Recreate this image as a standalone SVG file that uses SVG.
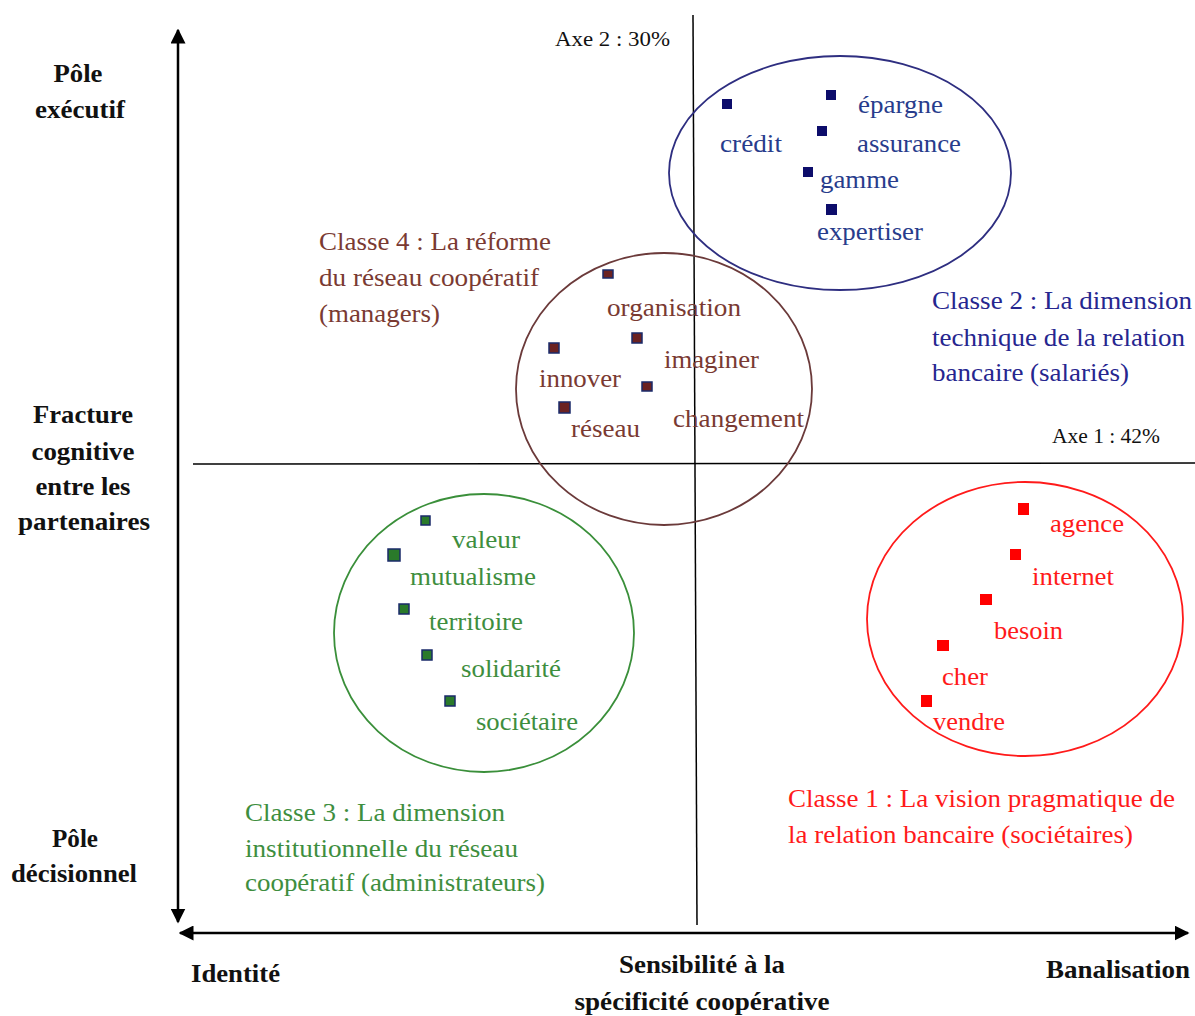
<svg xmlns="http://www.w3.org/2000/svg" width="1195" height="1016" viewBox="0 0 1195 1016">
<style>
text{font-family:"Liberation Serif","Times New Roman",serif;font-size:26px}
.b{font-weight:bold;fill:#111;font-size:25px}
.ax{font-size:20px;fill:#111}
.c2{fill:#283c8c}
.c2l{fill:#26268f}
.c4{fill:#7a3a32}
.c3{fill:#3e8e3e}
.c1{fill:#ff1a1a}
.sq2{fill:#0d0d6b}
.sq4{fill:#6b2222;stroke:#1a2a6a;stroke-width:1.5}
.sq3{fill:#2a7a2a;stroke:#1a2a6a;stroke-width:1.5}
.sq1{fill:#ff0000}
.main{stroke:#000;stroke-width:2.5;fill:none}
.thin{stroke:#000;stroke-width:1.5;fill:none}
</style>
<defs>
<marker id="ah" viewBox="0 0 10 10" refX="9" refY="5" markerWidth="6" markerHeight="6" orient="auto-start-reverse" markerUnits="strokeWidth">
<path d="M0,0 L10,5 L0,10 z" fill="#000"/>
</marker>
</defs>
<rect width="1195" height="1016" fill="#fff"/>

<g id="connectors">
<line class="main" x1="178" y1="30" x2="178" y2="922" marker-start="url(#ah)" marker-end="url(#ah)"/>
<line class="main" x1="180" y1="933" x2="1188" y2="933" marker-start="url(#ah)" marker-end="url(#ah)"/>
<line class="thin" x1="693" y1="15" x2="697" y2="925"/>
<line class="thin" x1="193" y1="464" x2="1195" y2="463"/>
</g>

<g id="axis-labels">
<text class="ax" x="555" y="46" textLength="115" lengthAdjust="spacingAndGlyphs">Axe  2 : 30%</text>
<text class="ax" x="1052" y="443" textLength="108" lengthAdjust="spacingAndGlyphs">Axe 1 : 42%</text>
</g>

<g id="pole-executif">
<text class="b" x="78" y="82" text-anchor="middle" textLength="49" lengthAdjust="spacingAndGlyphs">Pôle</text>
<text class="b" x="80" y="118" text-anchor="middle" textLength="90" lengthAdjust="spacingAndGlyphs">exécutif</text>
</g>
<g id="fracture">
<text class="b" x="83" y="423" text-anchor="middle" textLength="100" lengthAdjust="spacingAndGlyphs">Fracture</text>
<text class="b" x="83" y="460" text-anchor="middle" textLength="103" lengthAdjust="spacingAndGlyphs">cognitive</text>
<text class="b" x="83" y="495" text-anchor="middle" textLength="95" lengthAdjust="spacingAndGlyphs">entre les</text>
<text class="b" x="84" y="530" text-anchor="middle" textLength="132" lengthAdjust="spacingAndGlyphs">partenaires</text>
</g>
<g id="pole-decisionnel">
<text class="b" x="75" y="847" text-anchor="middle" textLength="46" lengthAdjust="spacingAndGlyphs">Pôle</text>
<text class="b" x="74" y="882" text-anchor="middle" textLength="126" lengthAdjust="spacingAndGlyphs">décisionnel</text>
</g>
<g id="identite">
<text class="b" x="191" y="982" textLength="89" lengthAdjust="spacingAndGlyphs">Identité</text>
</g>
<g id="sensibilite">
<text class="b" x="702" y="973" text-anchor="middle" textLength="166" lengthAdjust="spacingAndGlyphs">Sensibilité à la</text>
<text class="b" x="702" y="1010" text-anchor="middle" textLength="255" lengthAdjust="spacingAndGlyphs">spécificité coopérative</text>
</g>
<g id="banalisation">
<text class="b" x="1046" y="978" textLength="144" lengthAdjust="spacingAndGlyphs">Banalisation</text>
</g>

<g id="classe2">
<ellipse cx="840" cy="173" rx="171" ry="117" fill="none" stroke="#2e2e80" stroke-width="1.8"/>
<rect class="sq2" x="722" y="99" width="10" height="10"/>
<rect class="sq2" x="826" y="90" width="10" height="10"/>
<rect class="sq2" x="817" y="126" width="10" height="10"/>
<rect class="sq2" x="803" y="167" width="10" height="10"/>
<rect class="sq2" x="826" y="204" width="11" height="11"/>
<text class="c2" x="858" y="113" textLength="85" lengthAdjust="spacingAndGlyphs">épargne</text>
<text class="c2" x="720" y="152" textLength="62" lengthAdjust="spacingAndGlyphs">crédit</text>
<text class="c2" x="857" y="152" textLength="104" lengthAdjust="spacingAndGlyphs">assurance</text>
<text class="c2" x="820" y="188" textLength="79" lengthAdjust="spacingAndGlyphs">gamme</text>
<text class="c2" x="817" y="240" textLength="106" lengthAdjust="spacingAndGlyphs">expertiser</text>
</g>
<g id="classe2-label">
<text class="c2l" x="932" y="309" textLength="260" lengthAdjust="spacingAndGlyphs">Classe 2 : La dimension</text>
<text class="c2l" x="932" y="346" textLength="253" lengthAdjust="spacingAndGlyphs">technique de la relation</text>
<text class="c2l" x="932" y="381" textLength="197" lengthAdjust="spacingAndGlyphs">bancaire (salariés)</text>
</g>

<g id="classe4">
<ellipse cx="664" cy="389" rx="148" ry="136" fill="none" stroke="#6b3a3a" stroke-width="1.8"/>
<rect class="sq4" x="603" y="270" width="10" height="8"/>
<rect class="sq4" x="632" y="333" width="10" height="10"/>
<rect class="sq4" x="549" y="343" width="10" height="10"/>
<rect class="sq4" x="642" y="382" width="10" height="9"/>
<rect class="sq4" x="559" y="402" width="11" height="11"/>
<text class="c4" x="607" y="316" textLength="134" lengthAdjust="spacingAndGlyphs">organisation</text>
<text class="c4" x="664" y="368" textLength="95" lengthAdjust="spacingAndGlyphs">imaginer</text>
<text class="c4" x="539" y="387" textLength="82" lengthAdjust="spacingAndGlyphs">innover</text>
<text class="c4" x="571" y="437" textLength="69" lengthAdjust="spacingAndGlyphs">réseau</text>
<text class="c4" x="673" y="427" textLength="131" lengthAdjust="spacingAndGlyphs">changement</text>
</g>
<g id="classe4-label">
<text class="c4" x="319" y="250" textLength="232" lengthAdjust="spacingAndGlyphs">Classe 4 : La réforme</text>
<text class="c4" x="319" y="286" textLength="220" lengthAdjust="spacingAndGlyphs">du réseau coopératif</text>
<text class="c4" x="319" y="322" textLength="121" lengthAdjust="spacingAndGlyphs">(managers)</text>
</g>

<g id="classe3">
<ellipse cx="484" cy="633" rx="150" ry="139" fill="none" stroke="#3a8f3a" stroke-width="1.8"/>
<rect class="sq3" x="421" y="516" width="9" height="9"/>
<rect class="sq3" x="388" y="549" width="12" height="12"/>
<rect class="sq3" x="399" y="604" width="10" height="10"/>
<rect class="sq3" x="422" y="650" width="10" height="10"/>
<rect class="sq3" x="445" y="696" width="10" height="10"/>
<text class="c3" x="452" y="548" textLength="68" lengthAdjust="spacingAndGlyphs">valeur</text>
<text class="c3" x="410" y="585" textLength="126" lengthAdjust="spacingAndGlyphs">mutualisme</text>
<text class="c3" x="429" y="630" textLength="94" lengthAdjust="spacingAndGlyphs">territoire</text>
<text class="c3" x="461" y="677" textLength="100" lengthAdjust="spacingAndGlyphs">solidarité</text>
<text class="c3" x="476" y="730" textLength="102" lengthAdjust="spacingAndGlyphs">sociétaire</text>
</g>
<g id="classe3-label">
<text class="c3" x="245" y="821" textLength="260" lengthAdjust="spacingAndGlyphs">Classe 3 : La dimension</text>
<text class="c3" x="245" y="857" textLength="273" lengthAdjust="spacingAndGlyphs">institutionnelle du réseau</text>
<text class="c3" x="245" y="891" textLength="300" lengthAdjust="spacingAndGlyphs">coopératif (administrateurs)</text>
</g>

<g id="classe1">
<ellipse cx="1025" cy="619" rx="158" ry="137" fill="none" stroke="#ff1a1a" stroke-width="1.8"/>
<rect class="sq1" x="1018" y="503" width="11" height="12"/>
<rect class="sq1" x="1010" y="549" width="11" height="11"/>
<rect class="sq1" x="980" y="594" width="12" height="11"/>
<rect class="sq1" x="937" y="640" width="12" height="11"/>
<rect class="sq1" x="921" y="695" width="11" height="12"/>
<text class="c1" x="1050" y="532" textLength="74" lengthAdjust="spacingAndGlyphs">agence</text>
<text class="c1" x="1032" y="585" textLength="82" lengthAdjust="spacingAndGlyphs">internet</text>
<text class="c1" x="994" y="639" textLength="69" lengthAdjust="spacingAndGlyphs">besoin</text>
<text class="c1" x="942" y="685" textLength="46" lengthAdjust="spacingAndGlyphs">cher</text>
<text class="c1" x="933" y="730" textLength="72" lengthAdjust="spacingAndGlyphs">vendre</text>
</g>
<g id="classe1-label">
<text class="c1" x="788" y="807" textLength="387" lengthAdjust="spacingAndGlyphs">Classe 1 : La vision pragmatique de</text>
<text class="c1" x="788" y="843" textLength="345" lengthAdjust="spacingAndGlyphs">la relation bancaire (sociétaires)</text>
</g>
</svg>
